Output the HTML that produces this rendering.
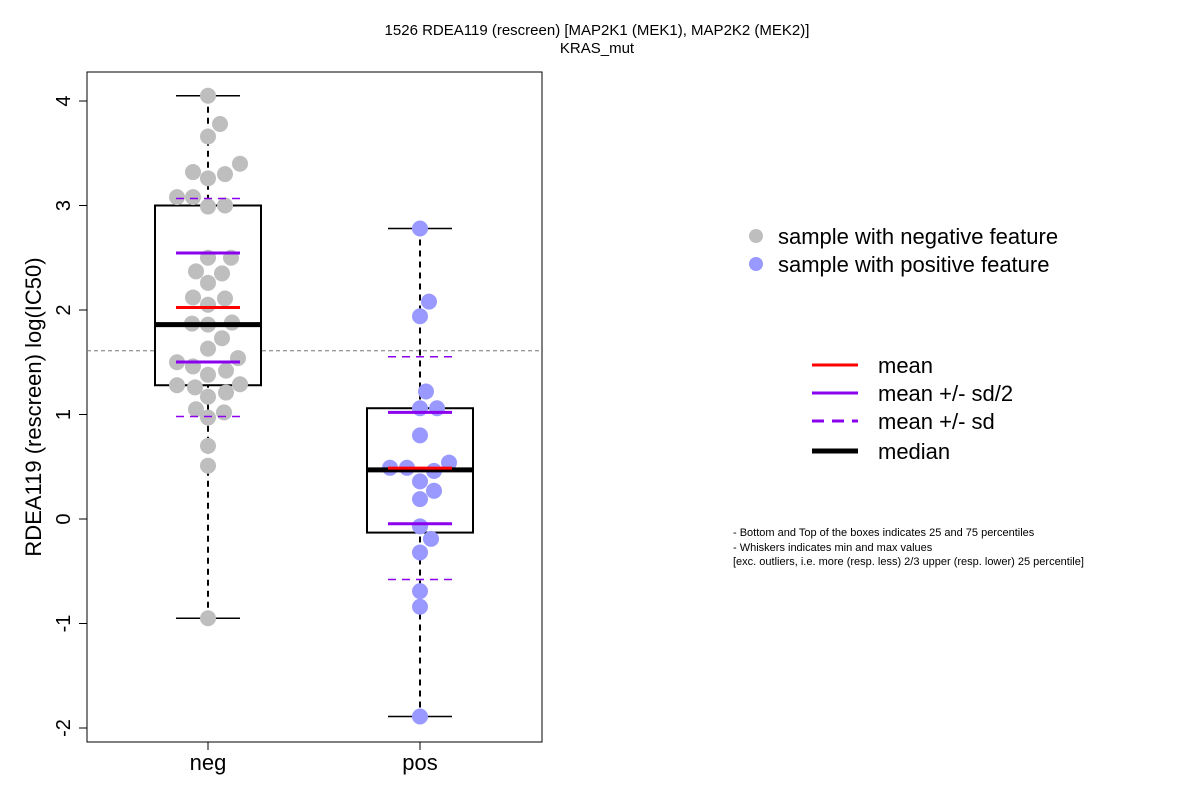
<!DOCTYPE html>
<html><head><meta charset="utf-8"><style>body{margin:0;background:#fff}svg{display:block}text{font-family:"Liberation Sans",Arial,sans-serif}</style></head>
<body>
<svg id="c" width="1200" height="800" xmlns="http://www.w3.org/2000/svg">
<text x="597" y="35" font-size="15" text-anchor="middle">1526 RDEA119 (rescreen) [MAP2K1 (MEK1), MAP2K2 (MEK2)]</text>
<text x="597" y="53" font-size="15" text-anchor="middle">KRAS_mut</text>
<rect x="87" y="72" width="455" height="670" fill="none" stroke="#000"/>
<text transform="translate(41,407) rotate(-90)" font-size="22" text-anchor="middle">RDEA119 (rescreen) log(IC50)</text>
<g id="g"></g>
<g>
<circle cx="756" cy="236" r="7" fill="#bebebe"/><text x="778" y="244" font-size="22">sample with negative feature</text>
<circle cx="756" cy="264" r="7" fill="#9999ff"/><text x="778" y="272" font-size="22">sample with positive feature</text>
</g>
<g font-size="22">
<line x1="812" y1="365" x2="858" y2="365" stroke="#ff0000" stroke-width="3"/><text x="878" y="373">mean</text>
<line x1="812" y1="393" x2="858" y2="393" stroke="#8b00ee" stroke-width="3"/><text x="878" y="401">mean +/- sd/2</text>
<line x1="812" y1="421" x2="858" y2="421" stroke="#8b00ee" stroke-width="3" stroke-dasharray="12,8"/><text x="878" y="429">mean +/- sd</text>
<line x1="812" y1="451" x2="858" y2="451" stroke="#000" stroke-width="5"/><text x="878" y="459">median</text>
</g>
<g font-size="11">
<text x="733" y="536">- Bottom and Top of the boxes indicates 25 and 75 percentiles</text>
<text x="733" y="551">- Whiskers indicates min and max values</text>
<text x="733" y="565">[exc. outliers, i.e. more (resp. less) 2/3 upper (resp. lower) 25 percentile]</text>
</g>
</svg>
<script>
const categories=["neg","pos"];
const negValues=[4.05,3.78,3.66,3.32,3.40,3.26,3.30,3.08,3.08,2.99,3.00,2.50,2.50,2.37,2.35,2.26,2.12,2.11,2.05,1.87,1.86,1.88,1.73,1.63,1.50,1.54,1.46,1.38,1.42,1.28,1.26,1.29,1.17,1.21,1.05,1.02,0.97,0.70,0.51,-0.95];
const negOffsets=[0,12,0,-15,32,0,17,-31,-15,0,17,0,23,-12,14,0,-15,17,0,-16,0,24,14,0,-31,30,-15,0,18,-31,-13,32,0,18,-12,16,0,0,0,0];
const posValues=[2.78,2.08,1.94,1.22,1.06,1.06,0.80,0.49,0.49,0.54,0.46,0.36,0.27,0.19,-0.07,-0.19,-0.32,-0.69,-0.84,-1.89];
const posOffsets=[0,9,0,6,0,17,0,-30,-13,29,14,0,14,0,0,11,0,0,0,0];
const yTicks=[-2,-1,0,1,2,3,4];
const refLine=1.61;
const boxStats={neg:{q1:1.28,med:1.86,q3:3.0},pos:{q1:-0.13,med:0.47,q3:1.06}};
const Y=v=>519-v*104.5;
const X=i=>208+i*212;
const g=document.getElementById('g');
const NS='http://www.w3.org/2000/svg';
function el(t,a,p){const e=document.createElementNS(NS,t);for(const k in a)e.setAttribute(k,a[k]);(p||g).appendChild(e);return e;}
yTicks.forEach(t=>{
 const l=el('line',{x1:79,x2:87,y1:Y(t),y2:Y(t),stroke:'#000'});
 
 
 const tx=el('text',{transform:`translate(70,${Y(t)}) rotate(-90)`,'font-size':20,'text-anchor':'middle'});
 tx.textContent=t;
 
 
});
const rl=el('line',{x1:87,x2:542,y1:Y(refLine),y2:Y(refLine),stroke:'#777','stroke-dasharray':'4,3'});


const mean=a=>a.reduce((s,v)=>s+v,0)/a.length;
const sd=a=>{const m=mean(a);return Math.sqrt(a.reduce((s,v)=>s+(v-m)*(v-m),0)/(a.length-1));};
[[negValues,negOffsets,'#bebebe'],[posValues,posOffsets,'#9999ff']].forEach(([vals,offs,col],i)=>{
 const cx=X(i),st=boxStats[categories[i]];
 const mn=Math.min(...vals),mx=Math.max(...vals);
 const w=el('line',{x1:cx,x2:cx,y1:Y(mx),y2:Y(mn),stroke:'#000','stroke-width':2,'stroke-dasharray':'6,5'});
 
 
 [mx,mn].forEach(v=>{const c=el('line',{x1:cx-32,x2:cx+32,y1:Y(v),y2:Y(v),stroke:'#000','stroke-width':1.5});
  
  });
 const b=el('rect',{x:cx-53,y:Y(st.q3),width:106,height:Y(st.q1)-Y(st.q3),fill:'#fff',stroke:'#000','stroke-width':2});
 
 
 vals.forEach((v,j)=>{const c=el('circle',{cx:cx+offs[j],cy:Y(v),r:8,fill:col});
  
  });
 const m=mean(vals),s=sd(vals);
 [[m+s,'#8b00ee',1.5,'8,6'],[m-s,'#8b00ee',1.5,'8,6'],[m+s/2,'#8b00ee',3,''],[m-s/2,'#8b00ee',3,'']].forEach(([v,c,sw,da])=>{
  const l=el('line',{x1:cx-32,x2:cx+32,y1:Y(v),y2:Y(v),stroke:c,'stroke-width':sw,'stroke-dasharray':da});
  
  });
 const md=el('line',{x1:cx-53,x2:cx+53,y1:Y(st.med),y2:Y(st.med),stroke:'#000','stroke-width':5});
 
 
 const ml=el('line',{x1:cx-32,x2:cx+32,y1:Y(m),y2:Y(m),stroke:'#ff0000','stroke-width':3});
 
 
 const t=el('line',{x1:cx,x2:cx,y1:742,y2:750,stroke:'#000'});
 
 
 const lab=el('text',{x:cx,y:770,'font-size':22,'text-anchor':'middle'});
 lab.textContent=categories[i];
 
 
});
</script>
</body></html>
